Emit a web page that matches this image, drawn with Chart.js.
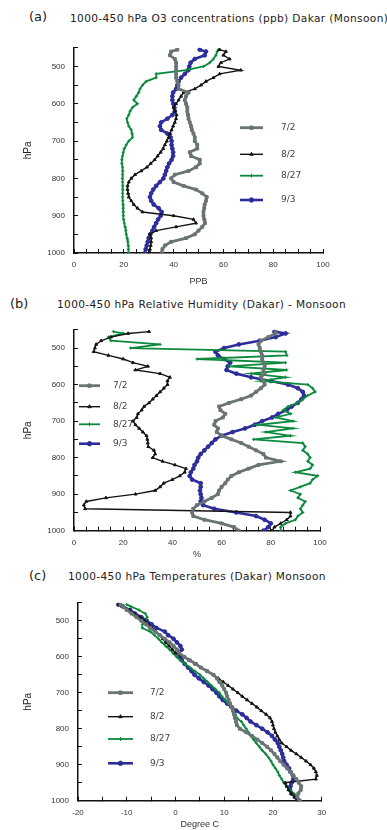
<!DOCTYPE html>
<html>
<head>
<meta charset="utf-8">
<script src="https://cdn.jsdelivr.net/npm/chart.js@4.4.1/dist/chart.umd.min.js"></script>
<style>
  body { margin: 0; background: #fff; width: 387px; height: 830px; position: relative; overflow: hidden; font-family: "DejaVu Sans", sans-serif; }
  .tag { position: absolute; font-size: 13px; line-height: 13px; color: #222; }
  .ttl { position: absolute; font-size: 10.6px; line-height: 11px; letter-spacing: 0.35px; color: #222; white-space: nowrap; }
  canvas { position: absolute; left: 0; }
</style>
</head>
<body>
<div class="tag" style="left:29px;top:10px">(a)</div>
<div class="ttl" style="left:70px;top:13px">1000-450 hPa O3 concentrations (ppb) Dakar (Monsoon)</div>
<canvas id="chartA" width="387" height="262" style="top:30px"></canvas>

<div class="tag" style="left:10px;top:297px">(b)</div>
<div class="ttl" style="left:57px;top:299px">1000-450 hPa Relative Humidity (Dakar) - Monsoon</div>
<canvas id="chartB" width="387" height="250" style="top:312px"></canvas>

<div class="tag" style="left:29px;top:569px">(c)</div>
<div class="ttl" style="left:68px;top:571px">1000-450 hPa Temperatures (Dakar) Monsoon</div>
<canvas id="chartC" width="387" height="245" style="top:585px"></canvas>

<script>
// pressure levels (hPa), shared by all soundings
const levels = [455, 460, 470, 480, 490, 500, 510, 520, 530, 540,
                550, 560, 570, 580, 590, 600, 610, 620, 630, 640,
                650, 660, 670, 680, 690, 700, 710, 720, 730, 740,
                750, 760, 770, 780, 790, 800, 810, 820, 830, 840,
                850, 860, 870, 880, 890, 900, 910, 920, 930, 940,
                950, 960, 970, 980, 990, 1000];
const dates = ['7/2', '8/2', '8/27', '9/3'];
const pressLabels = [500, 600, 700, 800, 900, 1000];

// O3 (ppb)
const o3_0702 = [41.5, 39, 38.5, 40.5, 41, 41, 41, 41, 41, 41.5,
                 42, 42, 46, 45, 44.5, 45, 45.5, 45.5, 45.8, 46,
                 46.5, 47, 47.3, 48, 48.5, 48.5, 49.5, 49.5, 46.5, 47,
                 50.5, 50.5, 49, 46, 40.5, 39, 40, 44, 49, 51.5,
                 53.3, 53, 52.5, 52.3, 52, 52, 52.3, 52.6, 51.5, 50,
                 48.5, 45, 39, 36.5, 35.5, 35.2];
const o3_0802 = [58.5, 61, 60, 62.5, 59, 58, 67, 58.5, 56, 53,
                 51, 48.5, 44, 43, 42, 41, 40, 40.5, 41.2, 41,
                 40.5, 39.8, 39.2, 38.6, 38, 37.3, 36.5, 35.8, 34.8, 33.6,
                 32.4, 30.8, 29.3, 27, 24.5, 23, 22, 21.5, 21.5, 21.7,
                 22, 23, 24, 25.5, 27.5, 40, 48, 49, 41, 33,
                 30.5, 31, 31, 30.8, 30.5, 30.5];
const o3_0827 = [58, 57.5, 57, 56, 54.5, 52, 45, 33, 33, 29,
                 27.5, 26.5, 26, 25, 24, 25.5, 23.5, 22.5, 22, 21.2,
                 21.5, 22, 23, 23.3, 23.5, 22, 21, 20.2, 19.8, 19.5,
                 19.2, 19.2, 19.5, 19.6, 19.5, 19.4, 19.5, 19.6, 19.6, 19.5,
                 19.5, 19.6, 19.7, 19.7, 19.8, 19.8, 20, 20.2, 20.5, 20.8,
                 21, 21.3, 21.6, 21.8, 21.8, 22];
const o3_0903 = [50.5, 53, 52.5, 48.5, 46.8, 46.3, 45.9, 44.5, 43, 42,
                 41.5, 41, 39.8, 39.5, 39.5, 39.9, 40.3, 40.5, 39.5, 37.5,
                 35, 34.5, 35, 37.5, 38.8, 39.2, 39.2, 39.5, 39.8, 39.8,
                 39.2, 38.2, 37.5, 37, 36.5, 35.9, 34.5, 33, 31.8, 31,
                 30.5, 31, 32, 34, 35.2, 34.8, 33.8, 33, 32.2, 31.5,
                 30.6, 30, 29.6, 29.2, 28.8, 28.5];

// relative humidity (%)
const rh_0702 = [82, 82, 79, 76, 75, 75.5, 76, 76.5, 76.5, 77,
                 77.5, 77, 77.5, 76, 77, 77.5, 76, 74, 72, 68,
                 63, 59, 59.5, 61.5, 60.5, 57.5, 57, 58.5, 58, 60,
                 64, 68, 71, 74, 77, 78, 84, 75, 71, 67,
                 64, 62.5, 61.5, 60, 59, 58.5, 56, 53, 50, 48.5,
                 48, 48.5, 53, 60, 65, 67];
const rh_0802 = [30.5, 22, 15, 11, 9, 8.5, 8, 14, 20, 24,
                 30, 25, 35, 39, 38, 38, 36.5, 35, 33.5, 32,
                 30.5, 28.5, 27.5, 26, 25.5, 24, 25, 26.5, 28, 29.5,
                 29.8, 30, 30.2, 32.5, 33, 32, 36, 41, 45.5, 45,
                 43, 40, 36.5, 35, 33, 25, 13, 5, 4, 4.5,
                 88, 88, 86.5, 84, 81.5, 80.5];
const rh_0827 = [16, 20, 14, 15, 35, 23, 86, 86.5, 50, 86,
                 63, 86.5, 72, 86, 76, 95, 97, 98, 95, 93,
                 91, 87, 85, 88, 82, 89, 75, 89, 78, 88,
                 73, 93, 94, 93, 95, 96, 95, 97, 96, 90,
                 99, 97, 96, 92, 88, 92, 91, 94, 93, 92,
                 93, 91, 90, 86, 84, 84];
const rh_0903 = [81.5, 86, 82, 75.5, 67, 61, 57.5, 58.5, 61, 63.5,
                 62.5, 62, 66, 72, 80, 87, 91, 93, 93.5, 92.5,
                 91, 88.5, 86.5, 83, 80.5, 76.5, 73.5, 69.5, 64.5, 60,
                 57.5, 56, 54.5, 53, 51.5, 50.5, 50, 49, 48.5, 47.5,
                 47, 48, 51.5, 51.5, 51.2, 51.5, 51.8, 51.5, 52.5, 57,
                 66, 74, 77.5, 80, 79, 77];

// temperature (deg C)
const t_0702 = [-11.3, -10.8, -10, -9, -8, -7, -6, -5.2, -4.2, -3.2,
                -2.2, -1.2, -0.4, 0.3, 0.8, 1.8, 3, 4.2, 5.2, 6.5,
                7.8, 8.5, 9, 9.6, 10, 10.4, 10.6, 10.9, 11.2, 11.6,
                11.8, 12, 12.2, 12.4, 12.6, 13.2, 14.5, 15.7, 16.8, 17.8,
                18.8, 19.6, 20.3, 20.9, 21.5, 22.2, 22.9, 23.6, 24.2, 24.8,
                25.3, 25.8, 25.7, 25.2, 25, 25.4];
const t_0802 = [-11.7, -11, -9.5, -8.5, -7.3, -6.3, -5.5, -4.8, -4, -3.3,
                -2.6, -2, -1.3, -0.6, 0, 1.5, 2.8, 4, 5.2, 6.5,
                7.8, 8.8, 9.8, 10.8, 11.8, 12.8, 13.7, 14.7, 15.7, 16.7,
                17.6, 18.6, 19.4, 19.8, 20, 20.2, 20.5, 20.9, 21.3, 21.8,
                22.8, 23.7, 24.8, 25.8, 26.8, 27.7, 28.4, 28.8, 29, 28.8,
                22.5, 22.8, 23.2, 23.8, 24.4, 24.9];
const t_0827 = [-10, -9.2, -7.5, -6.2, -5.8, -6.3, -6.8, -6.8, -5.2, -4.3,
                -3.5, -2.8, -2, -1.2, -0.5, 0.2, 1, 2, 3, 4,
                5, 5.8, 6.6, 7.4, 8.2, 9, 9.5, 10.2, 10.8, 11.4,
                12, 12.3, 12.6, 13.5, 14, 14.5, 15, 15.5, 16, 16.6,
                17.2, 17.8, 18.5, 19.1, 19.6, 20, 20.5, 21, 21.3, 21.8,
                22.2, 22.8, 23.5, 24.3, 25, 25.7];
const t_0903 = [-11.7, -10.8, -9.3, -8.3, -7, -5.9, -4.9, -3.9, -2.2, -1.5,
                -0.4, 0.3, 1, 1.3, 0.6, 0.8, 1.3, 1.9, 2.6, 3.3,
                3.9, 4.8, 5.8, 6.8, 7.6, 8.4, 9, 9.7, 10.6, 11.5,
                12.5, 13.7, 14.6, 15.4, 16.6, 17.8, 18.9, 19.8, 20.4, 21,
                21.3, 21.6, 21.9, 22.1, 22.3, 22.8, 23.3, 23.6, 24.1, 24.2,
                23.8, 23.6, 23.5, 23.8, 24.6, 25.4];

// look of each sounding, same order as dates
const styles = [
  { color: '#6b7474', pointStyle: 'rect', radius: 2, width: 2.8 },
  { color: '#141414', pointStyle: 'triangle', radius: 1.7, width: 1.4 },
  { color: '#0b8a3d', pointStyle: 'cross', radius: 1.6, width: 1.8 },
  { color: '#2d2d9b', pointStyle: 'circle', radius: 1.9, width: 2.6 }
];

function profile(vals, i) {
  const s = styles[i];
  return {
    label: dates[i],
    data: levels.map((p, k) => ({ x: vals[k], y: p })),
    showLine: true,
    borderColor: s.color,
    backgroundColor: s.color,
    borderWidth: s.width,
    pointStyle: s.pointStyle,
    pointRadius: s.radius,
    pointBorderWidth: 1,
    pointHoverRadius: 0,
    tension: 0
  };
}

// legend drawn inside the plot, like the original figure
const legendBox = {
  id: 'legendBox',
  afterDatasetsDraw(chart, args, opts) {
    const ctx = chart.ctx;
    chart.data.datasets.forEach((ds, i) => {
      const y = opts.rows[i];
      ctx.save();
      ctx.strokeStyle = ds.borderColor;
      ctx.lineWidth = ds.borderWidth;
      ctx.beginPath();
      ctx.moveTo(opts.x1, y);
      ctx.lineTo(opts.x2, y);
      ctx.stroke();
      ctx.fillStyle = ds.borderColor;
      ctx.lineWidth = 1;
      Chart.helpers.drawPoint(ctx, { pointStyle: ds.pointStyle, radius: ds.pointRadius + 0.3, borderWidth: 1, rotation: 0 }, (opts.x1 + opts.x2) / 2, y);
      ctx.fillStyle = '#444';
      ctx.font = '9px "DejaVu Sans"';
      ctx.textBaseline = 'middle';
      ctx.textAlign = 'left';
      ctx.fillText(ds.label, opts.tx, y);
      ctx.restore();
    });
  }
};

function makeChart(id, series, p) {
  const axisColor = '#111';
  new Chart(document.getElementById(id), {
    type: 'scatter',
    data: { datasets: series.map(profile) },
    plugins: [legendBox],
    options: {
      responsive: false,
      animation: false,
      events: [],
      layout: { padding: { top: p.padTop, right: p.padRight, left: 0, bottom: 0 } },
      plugins: {
        legend: { display: false },
        tooltip: { enabled: false },
        legendBox: p.legend
      },
      scales: {
        x: {
          type: 'linear',
          min: p.xMin,
          max: p.xMax,
          afterFit: s => { s.height = p.xAxisH; },
          ticks: {
            stepSize: 5, autoSkip: false, maxRotation: 0, padding: 11,
            color: '#333', font: { family: 'Liberation Sans', size: 8 },
            callback: v => p.xLabels.includes(v) ? v : ''
          },
          grid: { drawOnChartArea: false, tickLength: -4, color: axisColor, lineWidth: 1 },
          border: { color: axisColor, width: 1.5 },
          title: { display: true, text: p.xTitle, color: '#333', font: { family: 'Liberation Sans', size: 9 }, padding: { top: 0, bottom: p.xTitlePad } }
        },
        y: {
          type: 'linear',
          reverse: true,
          min: 450,
          max: 1000,
          afterFit: s => { s.width = p.yAxisW; },
          ticks: {
            stepSize: 50, autoSkip: false, padding: 13,
            color: '#333', font: { family: 'Liberation Sans', size: 8 },
            callback: v => pressLabels.includes(v) ? v : ''
          },
          grid: { drawOnChartArea: false, tickLength: -4, color: axisColor, lineWidth: 1 },
          border: { color: axisColor, width: 1.5 },
          title: { display: true, text: 'hPa', color: '#222', font: { family: 'Liberation Sans', size: 10 }, padding: { top: 22, bottom: 0 } }
        }
      }
    }
  });
}

makeChart('chartA', [o3_0702, o3_0802, o3_0827, o3_0903], {
  padTop: 13.6, padRight: 64, xAxisH: 39, yAxisW: 74,
  xMin: 0, xMax: 100, xLabels: [0, 20, 40, 60, 80, 100], xTitle: 'PPB', xTitlePad: 5,
  legend: { x1: 240, x2: 263, tx: 281, rows: [97.7, 124.3, 145.7, 170] }
});

makeChart('chartB', [rh_0702, rh_0802, rh_0827, rh_0903], {
  padTop: 13.7, padRight: 67, xAxisH: 31.3, yAxisW: 74,
  xMin: 0, xMax: 100, xLabels: [0, 20, 40, 60, 80, 100], xTitle: '%', xTitlePad: 2,
  legend: { x1: 79, x2: 100, tx: 113, rows: [73.7, 94.7, 112.3, 131.7] }
});

makeChart('chartC', [t_0702, t_0802, t_0827, t_0903], {
  padTop: 10.7, padRight: 65.3, xAxisH: 29.3, yAxisW: 78,
  xMin: -20, xMax: 30, xLabels: [-20, -10, 0, 10, 20, 30], xTitle: 'Degree C', xTitlePad: 0,
  legend: { x1: 108, x2: 133, tx: 150, rows: [107.7, 131.7, 154, 178.3] }
});
</script>
</body>
</html>
